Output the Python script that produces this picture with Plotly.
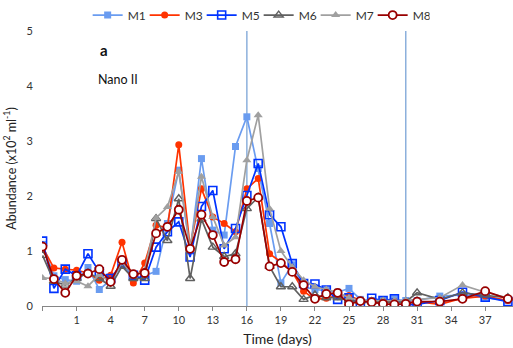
import plotly.graph_objects as go

days = list(range(-2, 32)) + [33, 35, 37, 39]

m1 = [1.12, 0.55, 0.48, 0.45, 0.70, 0.30, 0.47, 0.75, 0.50, 0.55, 0.63, 1.50, 2.47, 1.00, 2.68, 1.38, 1.29, 2.90, 3.44, 2.50,
      1.50, 0.42, 0.75, 0.35, 0.30, 0.28, 0.25, 0.32, 0.12, 0.10, 0.10, 0.12, 0.10, 0.10, 0.18, 0.20, 0.15, 0.10]
m3 = [1.07, 0.69, 0.67, 0.65, 0.60, 0.47, 0.56, 1.16, 0.42, 0.78, 1.47, 1.42, 2.93, 1.07, 2.13, 1.62, 1.50, 1.35, 2.13, 2.32,
      0.95, 0.80, 0.62, 0.27, 0.12, 0.14, 0.19, 0.19, 0.10, 0.08, 0.08, 0.08, 0.06, 0.08, 0.03, 0.14, 0.18, 0.10]
m5 = [1.18, 0.32, 0.67, 0.55, 0.95, 0.62, 0.50, 0.78, 0.56, 0.47, 1.07, 1.35, 1.53, 0.89, 1.81, 2.10, 1.04, 1.41, 2.01, 2.59,
      1.66, 1.44, 0.77, 0.41, 0.40, 0.29, 0.12, 0.15, 0.02, 0.14, 0.10, 0.13, 0.02, 0.03, 0.10, 0.25, 0.16, 0.08]
m6 = [0.92, 0.45, 0.38, 0.50, 0.60, 0.50, 0.36, 0.72, 0.50, 0.50, 1.59, 1.19, 1.95, 0.50, 1.58, 1.07, 0.90, 0.95, 1.77, 1.98,
      0.72, 0.35, 0.35, 0.12, 0.20, 0.15, 0.15, 0.10, 0.08, 0.08, 0.08, 0.06, 0.08, 0.24, 0.12, 0.24, 0.20, 0.15]
m7 = [0.51, 0.50, 0.41, 0.45, 0.36, 0.57, 0.43, 0.80, 0.55, 0.65, 1.60, 1.80, 2.44, 1.05, 2.35, 1.62, 1.10, 1.25, 2.65, 3.47,
      1.77, 1.00, 0.71, 0.47, 0.35, 0.30, 0.25, 0.15, 0.10, 0.10, 0.10, 0.10, 0.10, 0.12, 0.15, 0.38, 0.25, 0.15]
m8 = [1.08, 0.49, 0.24, 0.55, 0.59, 0.67, 0.44, 0.84, 0.58, 0.60, 1.32, 1.44, 1.75, 1.04, 1.66, 1.29, 0.80, 0.85, 1.91, 1.97,
      0.72, 0.78, 0.62, 0.38, 0.13, 0.22, 0.24, 0.03, 0.09, 0.07, 0.04, 0.03, 0.04, 0.08, 0.08, 0.13, 0.27, 0.13]

x_tickvals = [-2, 1, 4, 7, 10, 13, 16, 19, 22, 25, 28, 31, 34, 37]
x_ticktext = [""] + [str(v) for v in x_tickvals[1:]]
y_tickvals = [0, 1, 2, 3, 4, 5]
event_days = [16, 30]

FONT = "Lato, Open Sans, sans-serif"
XR = [-2.05, 39.45]

series = [
    ("M1", m1, "#6a9cf0", dict(symbol="square", color="#6a9cf0", size=7)),
    ("M3", m3, "#ff3300", dict(symbol="circle", color="#ff3300", size=7)),
    ("M5", m5, "#0033ff", dict(symbol="square-open", color="#0033ff", size=8, line=dict(width=1.6))),
    ("M6", m6, "#606060", dict(symbol="triangle-up-open", color="#606060", size=8, line=dict(width=1.4))),
    ("M7", m7, "#a0a0a0", dict(symbol="triangle-up", color="#a0a0a0", size=8)),
    ("M8", m8, "#990000", dict(symbol="circle", color="white", size=8, line=dict(color="#990000", width=1.8))),
]

fig = go.Figure()
for name, vals, col, mk in series:
    fig.add_trace(go.Scatter(x=days, y=vals, name=name, mode="lines+markers",
                             line=dict(color=col, width=1.7), marker=mk))

for d in event_days:
    fig.add_shape(type="line", xref="x", yref="paper", x0=d, x1=d, y0=0, y1=1,
                  line=dict(color="#8cb0dc", width=1.5), layer="below")

zero_pos = (0 - XR[0]) / (XR[1] - XR[0])

fig.update_layout(
    width=513, height=348,
    margin=dict(l=42, r=0, t=31, b=42),
    paper_bgcolor="white", plot_bgcolor="white",
    font=dict(family=FONT, size=11, color="#333333"),
    showlegend=True,
    legend=dict(orientation="h", x=0.46, xanchor="center", y=1.058, yanchor="middle",
                font=dict(size=12, color="#333333"), itemwidth=30, tracegroupgap=0,
                entrywidth=12, entrywidthmode="pixels",
                bgcolor="rgba(0,0,0,0)"),
    xaxis=dict(range=XR, tickmode="array", tickvals=x_tickvals, ticktext=x_ticktext,
               showgrid=False, zeroline=False, showline=True, linecolor="#868686", linewidth=1,
               ticks="outside", ticklen=4, tickcolor="#868686",
               tickfont=dict(size=11, color="#333333"),
               title=dict(text="Time (days)", font=dict(size=14, color="#222222"), standoff=8)),
    yaxis=dict(range=[0, 5], tickmode="array", tickvals=y_tickvals, showgrid=False,
               zeroline=False, showline=False, ticks="", ticklabelstandoff=8,
               tickfont=dict(size=11, color="#333333"),
               title=dict(text="Abundance (x10<sup>2</sup> ml<sup>-1</sup>)",
                          font=dict(size=12.5, color="#222222"), standoff=7)),
    yaxis2=dict(range=[0, 5], overlaying="y", anchor="free", position=zero_pos, side="left",
                tickmode="array", tickvals=y_tickvals, showticklabels=False, showgrid=False,
                zeroline=False, showline=True, linecolor="#868686", linewidth=1,
                ticks="outside", ticklen=3, tickcolor="#868686"),
    annotations=[
        dict(text="<b>a</b>", xref="paper", yref="paper", x=(104 - 42) / 471, y=(306 - 50) / 275,
             xanchor="center", yanchor="middle", showarrow=False, font=dict(size=15, color="#111111")),
        dict(text="Nano II", xref="paper", yref="paper", x=(96 - 42) / 471, y=(306 - 79) / 275,
             xanchor="left", yanchor="middle", showarrow=False, font=dict(size=12.5, color="#111111")),
    ],
)

fig.write_html("out.html")
